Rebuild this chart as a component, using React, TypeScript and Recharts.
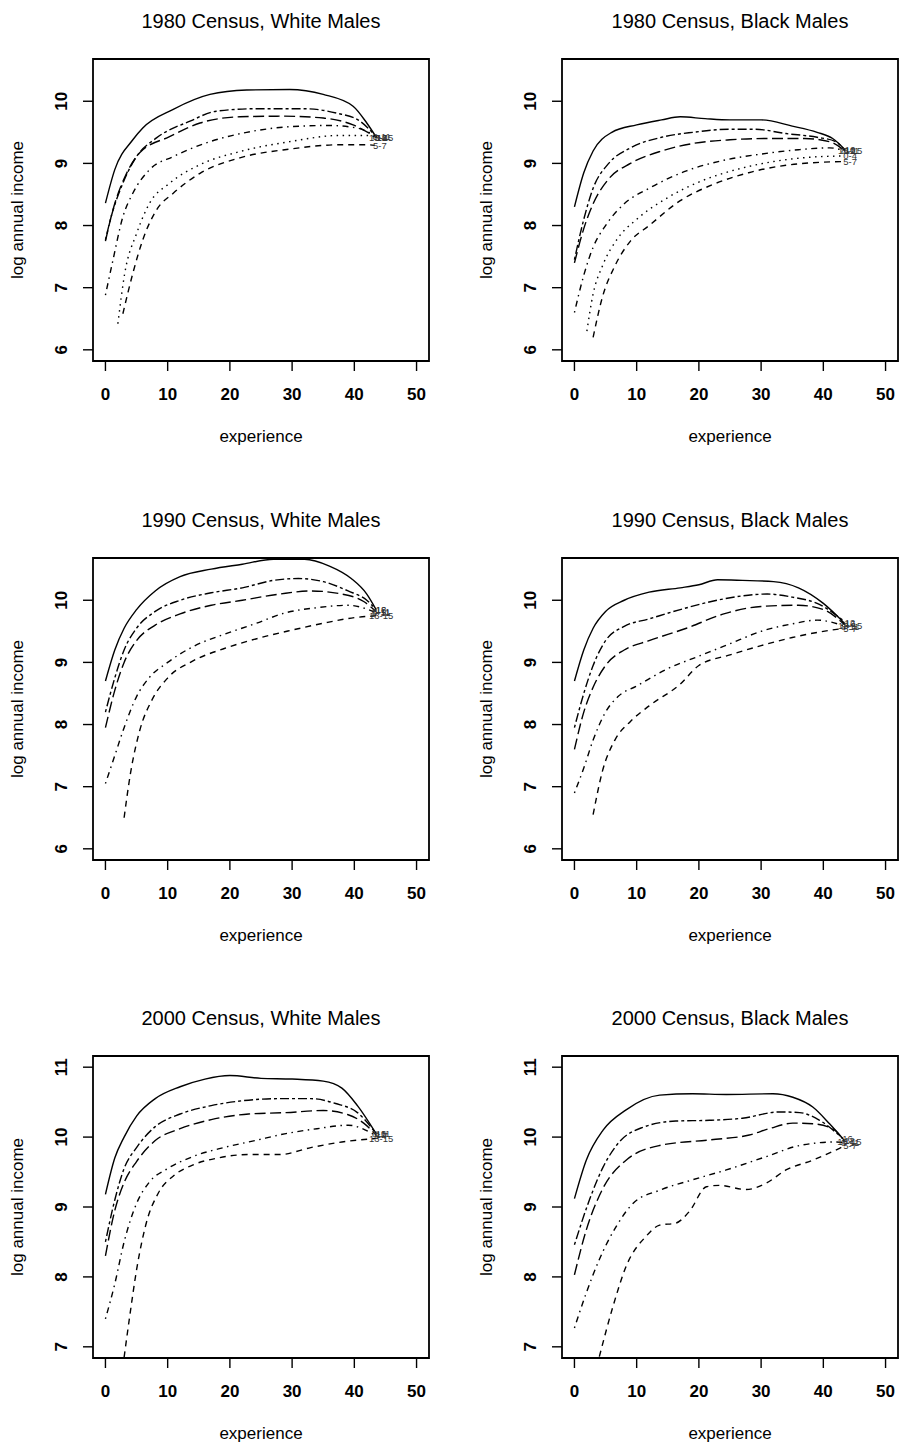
import React from "react";
import { LineChart, Line, XAxis, YAxis, ReferenceArea, LabelList } from "recharts";

type Pt = [number, number];

const xTicks = [0, 10, 20, 30, 40, 50];
const yTicksLow = [6, 7, 8, 9, 10];
const yTicksHigh = [7, 8, 9, 10, 11];

// 1980 Census, White Males
const w80Solid: Pt[] = [[0, 8.36], [1.5, 8.9], [4.4, 9.38], [6, 9.57], [10.9, 9.87], [16.8, 10.11], [22.7, 10.18], [29.6, 10.19], [35, 10.11], [39.8, 9.92], [42, 9.65], [43.6, 9.41]];
const w80TwoDash: Pt[] = [[0, 7.77], [1, 8.17], [2.8, 8.68], [5, 9.11], [8.2, 9.41], [13.6, 9.68], [17.8, 9.84], [24.3, 9.88], [31.8, 9.88], [37.1, 9.81], [40.9, 9.68], [43.6, 9.42]];
const w80LongDash: Pt[] = [[0, 7.75], [1.2, 8.25], [3.4, 8.84], [5.5, 9.17], [10.3, 9.43], [15.2, 9.65], [21.6, 9.75], [28.6, 9.76], [35, 9.73], [39.8, 9.62], [43.5, 9.42]];
const w80DotDash: Pt[] = [[0, 6.88], [1.2, 7.44], [2.8, 8.14], [4.4, 8.52], [7.1, 8.9], [10.9, 9.11], [16.2, 9.33], [22.7, 9.5], [29.6, 9.59], [36, 9.61], [40.4, 9.57], [43.6, 9.43]];
const w80Dotted: Pt[] = [[2, 6.42], [3.1, 7.23], [5, 7.87], [7.1, 8.36], [10.3, 8.68], [15.2, 8.98], [21.6, 9.19], [29.6, 9.35], [37.7, 9.45], [42, 9.45], [43.5, 9.42]];
const w80Dashed: Pt[] = [[2.8, 6.58], [4.4, 7.23], [6, 7.77], [8.2, 8.25], [10.9, 8.52], [15.2, 8.84], [21.6, 9.09], [29.6, 9.23], [37.7, 9.3], [42, 9.3], [43.3, 9.29]];

// 1980 Census, Black Males
const b80Solid: Pt[] = [[0, 8.3], [1.5, 8.85], [3, 9.2], [6, 9.5], [10, 9.62], [14, 9.7], [17, 9.75], [21, 9.72], [25, 9.7], [30, 9.7], [35, 9.6], [39, 9.5], [41.5, 9.4], [43.5, 9.22]];
const b80TwoDash: Pt[] = [[0, 7.45], [1.5, 8.1], [3, 8.6], [5.5, 9.0], [9, 9.25], [14, 9.42], [19, 9.5], [25, 9.55], [29, 9.55], [34, 9.48], [39, 9.42], [42, 9.35], [43.5, 9.2]];
const b80LongDash: Pt[] = [[0, 7.4], [1.5, 7.95], [3, 8.35], [5.5, 8.75], [9, 9.0], [14, 9.2], [19, 9.32], [25, 9.38], [31, 9.4], [37, 9.4], [41, 9.35], [43.5, 9.2]];
const b80DotDash: Pt[] = [[0, 6.6], [1.5, 7.2], [3, 7.65], [5, 8.0], [8, 8.35], [12, 8.6], [18, 8.88], [24, 9.05], [30, 9.15], [36, 9.22], [41, 9.25], [43.5, 9.2]];
const b80Dotted: Pt[] = [[2, 6.3], [3, 6.9], [4.5, 7.35], [7, 7.8], [10, 8.1], [15, 8.45], [20, 8.7], [26, 8.9], [32, 9.03], [38, 9.1], [43.5, 9.12]];
const b80Dashed: Pt[] = [[3, 6.2], [4.5, 6.85], [6.5, 7.35], [9, 7.75], [12, 8.0], [17, 8.4], [22, 8.65], [28, 8.85], [34, 8.97], [40, 9.02], [43.5, 9.03]];

// 1990 Census, White Males
const w90Solid: Pt[] = [[0, 8.7], [1.5, 9.2], [3, 9.55], [5, 9.85], [8, 10.15], [12, 10.38], [17, 10.5], [22, 10.58], [27, 10.66], [32, 10.66], [36, 10.55], [39.5, 10.35], [42, 10.1], [43.5, 9.85]];
const w90TwoDash: Pt[] = [[0, 8.2], [1.5, 8.75], [3, 9.2], [5, 9.55], [8, 9.82], [12, 10.0], [17, 10.12], [22, 10.2], [27, 10.32], [31, 10.35], [35, 10.3], [39, 10.15], [42, 10.0], [43.5, 9.85]];
const w90LongDash: Pt[] = [[0, 7.95], [1.5, 8.55], [3, 9.0], [5, 9.35], [8, 9.6], [12, 9.78], [17, 9.92], [22, 10.0], [28, 10.1], [33, 10.15], [38, 10.1], [41.5, 9.98], [43.5, 9.82]];
const w90DotDash: Pt[] = [[0, 7.05], [1.5, 7.5], [3, 7.95], [5, 8.45], [7, 8.75], [10, 9.0], [14, 9.25], [19, 9.45], [24, 9.62], [29, 9.8], [34, 9.88], [39, 9.92], [43.5, 9.8]];
const w90Dashed: Pt[] = [[3, 6.5], [4, 7.2], [5.5, 7.9], [7.5, 8.4], [10, 8.75], [14, 9.02], [19, 9.22], [25, 9.4], [30, 9.52], [35, 9.63], [40, 9.72], [43.5, 9.75]];

// 1990 Census, Black Males
const b90Solid: Pt[] = [[0, 8.7], [1.5, 9.2], [3, 9.55], [5, 9.82], [8, 10.0], [12, 10.13], [17, 10.2], [20, 10.25], [23, 10.33], [27, 10.32], [32, 10.3], [36, 10.2], [40, 9.95], [43.5, 9.62]];
const b90TwoDash: Pt[] = [[0, 7.95], [1.5, 8.5], [3, 8.95], [5, 9.35], [8, 9.58], [12, 9.7], [17, 9.85], [22, 9.98], [27, 10.07], [31, 10.1], [35, 10.05], [39, 9.95], [43.5, 9.65]];
const b90LongDash: Pt[] = [[0, 7.6], [1.5, 8.2], [3, 8.6], [5, 8.95], [8, 9.2], [12, 9.35], [18, 9.55], [24, 9.78], [30, 9.9], [36, 9.92], [40, 9.85], [43.5, 9.6]];
const b90DotDash: Pt[] = [[0, 6.9], [1.5, 7.3], [3, 7.75], [5, 8.2], [7, 8.45], [10, 8.62], [15, 8.9], [20, 9.1], [25, 9.3], [30, 9.5], [35, 9.62], [39, 9.68], [43.5, 9.58]];
const b90Dashed: Pt[] = [[3, 6.55], [4.5, 7.25], [6.5, 7.75], [9, 8.05], [12, 8.3], [17, 8.65], [20, 8.95], [25, 9.12], [30, 9.27], [35, 9.4], [40, 9.5], [43.5, 9.55]];

// 2000 Census, White Males
const w00Solid: Pt[] = [[0, 9.18], [1.5, 9.7], [3, 10.0], [5, 10.3], [8, 10.55], [12, 10.72], [16, 10.83], [20, 10.88], [25, 10.84], [30, 10.83], [35, 10.8], [38, 10.7], [40.5, 10.45], [43.5, 10.05]];
const w00TwoDash: Pt[] = [[0, 8.5], [1.5, 9.1], [3, 9.55], [5, 9.85], [8, 10.15], [12, 10.33], [17, 10.45], [22, 10.52], [28, 10.55], [33, 10.55], [37, 10.48], [40.5, 10.35], [43.5, 10.05]];
const w00LongDash: Pt[] = [[0, 8.3], [1.5, 8.95], [3, 9.35], [5, 9.65], [8, 9.95], [12, 10.12], [17, 10.25], [23, 10.33], [29, 10.35], [35, 10.38], [39, 10.32], [41.5, 10.2], [43.5, 10.03]];
const w00DotDash: Pt[] = [[0, 7.4], [1.5, 7.9], [3, 8.5], [5, 9.05], [7, 9.35], [10, 9.55], [14, 9.72], [19, 9.85], [24, 9.95], [29, 10.05], [34, 10.12], [39, 10.17], [43.5, 10.02]];
const w00Dashed: Pt[] = [[3, 6.85], [4, 7.5], [5, 8.1], [6.5, 8.75], [8.5, 9.2], [11, 9.45], [14, 9.6], [18, 9.7], [23, 9.75], [28, 9.75], [33, 9.85], [38, 9.93], [43.5, 9.98]];

// 2000 Census, Black Males
const b00Solid: Pt[] = [[0, 9.12], [1.9, 9.67], [4.6, 10.1], [8.3, 10.39], [13.7, 10.6], [19, 10.62], [24.4, 10.61], [31.9, 10.62], [35.1, 10.57], [38.3, 10.43], [41, 10.19], [43.4, 9.95]];
const b00TwoDash: Pt[] = [[0, 8.46], [2.4, 9.1], [4.6, 9.57], [7.2, 9.93], [11, 10.14], [16.3, 10.23], [21.7, 10.24], [27, 10.27], [32.9, 10.36], [36.2, 10.35], [39.4, 10.24], [43.1, 9.98]];
const b00LongDash: Pt[] = [[0, 8.03], [1.9, 8.67], [4.6, 9.27], [8.3, 9.67], [13.7, 9.88], [21.7, 9.96], [28.1, 10.03], [31.3, 10.12], [35.1, 10.2], [38.3, 10.19], [41.5, 10.12], [43.4, 9.93]];
const b00DotDash: Pt[] = [[0, 7.27], [1.9, 7.77], [4, 8.25], [6.7, 8.72], [9.4, 9.05], [13.7, 9.24], [19, 9.39], [24.4, 9.53], [30.8, 9.72], [36.2, 9.88], [42, 9.93], [43.5, 9.92]];
const b00Dashed: Pt[] = [[4, 6.86], [6.2, 7.58], [8.3, 8.15], [11.5, 8.58], [13.7, 8.74], [16.3, 8.77], [18.5, 8.94], [21.2, 9.29], [23.3, 9.31], [27.6, 9.25], [30.8, 9.34], [34, 9.53], [38.3, 9.67], [42.6, 9.84], [43.5, 9.88]];

// R line types (lty 1..6), scaled to this resolution
const LTY_SOLID = undefined;
const LTY_TWODASH = "3 3 9 3";
const LTY_LONGDASH = "11 4.5";
const LTY_DOTDASH = "1.5 4.5 6 4.5";
const LTY_DOTTED = "1.5 4.5";
const LTY_DASHED = "6 5";

const FONT = "'Liberation Sans', Arial, Helvetica, sans-serif";

interface Series {
  pts: Pt[];
  dash?: string;
  label: string;
}

interface PanelProps {
  title: string;
  left: number;
  top: number;
  yDomain: [number, number];
  yTicks: number[];
  series: Series[];
}

const AX_W = 93;
const BOX_W = 336;
const BOX_H = 302;
const M_TOP = 59;
const CHART_W = 435;
const CHART_H = 420;
const XAX_H = 40;

const XTick = (props: any) => {
  const { x, y, payload } = props;
  return (
    <text x={x} y={y + 23} textAnchor="middle" dominantBaseline="central" fontSize={17} fontWeight="bold" fontFamily={FONT} fill="#000">
      {payload.value}
    </text>
  );
};

const YTick = (props: any) => {
  const { x, y, payload } = props;
  const cx = x - 21.5;
  return (
    <text x={cx} y={y} transform={`rotate(-90 ${cx} ${y})`} textAnchor="middle" dominantBaseline="central" fontSize={17} fontWeight="bold" fontFamily={FONT} fill="#000">
      {payload.value}
    </text>
  );
};

const Panel = ({ title, left, top, yDomain, yTicks, series }: PanelProps) => {
  const boxCx = AX_W + BOX_W / 2;
  const boxCy = M_TOP + BOX_H / 2;
  return (
    <div style={{ position: "absolute", left, top, width: CHART_W, height: 460 }}>
      <div style={{ position: "absolute", left: boxCx, top: M_TOP - 38, transform: "translate(-50%, -50%)", whiteSpace: "nowrap", fontSize: 20, fontFamily: FONT }}>
        {title}
      </div>
      <div style={{ position: "absolute", left: 18, top: boxCy, transform: "translate(-50%, -50%) rotate(-90deg)", whiteSpace: "nowrap", fontSize: 17, fontFamily: FONT }}>
        log annual income
      </div>
      <div style={{ position: "absolute", left: boxCx, top: M_TOP + BOX_H + 76, transform: "translate(-50%, -50%)", whiteSpace: "nowrap", fontSize: 17, fontFamily: FONT }}>
        experience
      </div>
      <LineChart
        width={CHART_W}
        height={CHART_H}
        margin={{ top: M_TOP, right: CHART_W - AX_W - BOX_W, bottom: CHART_H - M_TOP - BOX_H - XAX_H, left: 0 }}
        style={{ position: "absolute", left: 0, top: 0 }}
      >
        <XAxis
          type="number"
          dataKey="x"
          domain={[-2, 52]}
          ticks={xTicks}
          interval={0}
          allowDataOverflow
          axisLine={false}
          tickLine={{ stroke: "#000", strokeWidth: 1.4 }}
          tickSize={10}
          tickMargin={0}
          height={XAX_H}
          tick={(p: any) => <XTick {...p} />}
        />
        <YAxis
          type="number"
          dataKey="y"
          domain={yDomain}
          ticks={yTicks}
          interval={0}
          allowDataOverflow
          axisLine={false}
          tickLine={{ stroke: "#000", strokeWidth: 1.4 }}
          tickSize={10}
          tickMargin={0}
          width={AX_W}
          tick={(p: any) => <YTick {...p} />}
        />
        <ReferenceArea x1={-2} x2={52} y1={yDomain[0]} y2={yDomain[1]} fill="none" stroke="#000" strokeWidth={1.8} ifOverflow="visible" />
        {series.map((s, i) => (
          <Line
            key={i}
            data={s.pts.map(([x, y]) => ({ x, y }))}
            dataKey="y"
            type="monotone"
            stroke="#000"
            strokeWidth={1.4}
            strokeDasharray={s.dash}
            dot={false}
            activeDot={false}
            isAnimationActive={false}
          >
            <LabelList
              dataKey="y"
              content={(p: any) =>
                p.index === s.pts.length - 1 ? (
                  <text x={p.x + 5} y={p.y} textAnchor="middle" dominantBaseline="central" fontSize={9.5} fontFamily={FONT} fill="#333">
                    {s.label}
                  </text>
                ) : null
              }
            />
          </Line>
        ))}
      </LineChart>
    </div>
  );
};

const DOMAIN_LOW: [number, number] = [5.82, 10.68];
const DOMAIN_HIGH: [number, number] = [6.84, 11.16];

export default function App() {
  return (
    <div style={{ position: "absolute", left: 0, top: 0, width: 904, height: 1445, background: "#fff", overflow: "hidden" }}>
      <Panel
        title="1980 Census, White Males"
        left={0}
        top={0}
        yDomain={DOMAIN_LOW}
        yTicks={yTicksLow}
        series={[
          { pts: w80Solid, dash: LTY_SOLID, label: "16" },
          { pts: w80TwoDash, dash: LTY_TWODASH, label: "12" },
          { pts: w80LongDash, dash: LTY_LONGDASH, label: "13-15" },
          { pts: w80DotDash, dash: LTY_DOTDASH, label: "8-11" },
          { pts: w80Dotted, dash: LTY_DOTTED, label: "0-4" },
          { pts: w80Dashed, dash: LTY_DASHED, label: "5-7" },
        ]}
      />
      <Panel
        title="1980 Census, Black Males"
        left={469}
        top={0}
        yDomain={DOMAIN_LOW}
        yTicks={yTicksLow}
        series={[
          { pts: b80Solid, dash: LTY_SOLID, label: "16" },
          { pts: b80TwoDash, dash: LTY_TWODASH, label: "12" },
          { pts: b80LongDash, dash: LTY_LONGDASH, label: "8-11" },
          { pts: b80DotDash, dash: LTY_DOTDASH, label: "13-15" },
          { pts: b80Dotted, dash: LTY_DOTTED, label: "0-4" },
          { pts: b80Dashed, dash: LTY_DASHED, label: "5-7" },
        ]}
      />
      <Panel
        title="1990 Census, White Males"
        left={0}
        top={499}
        yDomain={DOMAIN_LOW}
        yTicks={yTicksLow}
        series={[
          { pts: w90Solid, dash: LTY_SOLID, label: "16" },
          { pts: w90TwoDash, dash: LTY_TWODASH, label: "12" },
          { pts: w90LongDash, dash: LTY_LONGDASH, label: "8-11" },
          { pts: w90DotDash, dash: LTY_DOTDASH, label: "9-11" },
          { pts: w90Dashed, dash: LTY_DASHED, label: "13-15" },
        ]}
      />
      <Panel
        title="1990 Census, Black Males"
        left={469}
        top={499}
        yDomain={DOMAIN_LOW}
        yTicks={yTicksLow}
        series={[
          { pts: b90Solid, dash: LTY_SOLID, label: "16" },
          { pts: b90TwoDash, dash: LTY_TWODASH, label: "12" },
          { pts: b90LongDash, dash: LTY_LONGDASH, label: "13-15" },
          { pts: b90DotDash, dash: LTY_DOTDASH, label: "8-11" },
          { pts: b90Dashed, dash: LTY_DASHED, label: "5-7" },
        ]}
      />
      <Panel
        title="2000 Census, White Males"
        left={0}
        top={997}
        yDomain={DOMAIN_HIGH}
        yTicks={yTicksHigh}
        series={[
          { pts: w00Solid, dash: LTY_SOLID, label: "8-11" },
          { pts: w00TwoDash, dash: LTY_TWODASH, label: "16" },
          { pts: w00LongDash, dash: LTY_LONGDASH, label: "12" },
          { pts: w00DotDash, dash: LTY_DOTDASH, label: "5-7" },
          { pts: w00Dashed, dash: LTY_DASHED, label: "13-15" },
        ]}
      />
      <Panel
        title="2000 Census, Black Males"
        left={469}
        top={997}
        yDomain={DOMAIN_HIGH}
        yTicks={yTicksHigh}
        series={[
          { pts: b00Solid, dash: LTY_SOLID, label: "12" },
          { pts: b00TwoDash, dash: LTY_TWODASH, label: "16" },
          { pts: b00LongDash, dash: LTY_LONGDASH, label: "13-15" },
          { pts: b00DotDash, dash: LTY_DOTDASH, label: "8-11" },
          { pts: b00Dashed, dash: LTY_DASHED, label: "5-7" },
        ]}
      />
    </div>
  );
}
